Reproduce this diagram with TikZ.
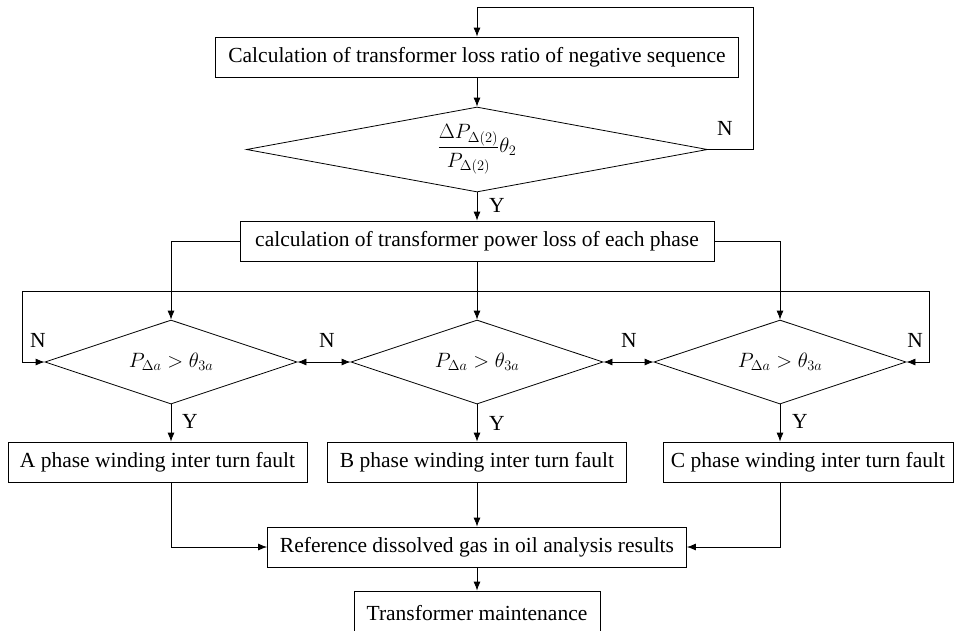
\documentclass[tikz,border=0pt]{standalone}
\usepackage{fontspec}
\setmainfont{Liberation Serif}
\usetikzlibrary{shapes.geometric,arrows.meta}

\begin{document}
\begin{tikzpicture}[x=1pt,y=-1pt,
		font=\fontsize{21.5}{26}\selectfont,
		line width=0.8pt,>={Latex[length=9pt,width=7pt]},
		procbox/.style={draw,rectangle,inner sep=0pt,minimum height=40pt},
		testbox/.style={draw,diamond,inner sep=0pt,aspect=3,minimum width=252pt,minimum height=84pt},
		lbl/.style={inner sep=0pt}]
	\useasboundingbox (0,0) rectangle (955,630);
	
	% Negative sequence check
	\node[procbox,minimum width=523pt] (calc1) at (477,57) {Calculation of transformer loss ratio of negative sequence};
	\node[testbox,aspect=5.4,minimum width=461pt,minimum height=85pt] (d1) at (477,149.5) {$\displaystyle\frac{\Delta P_{\Delta(2)}}{P_{\Delta(2)}}\theta_2$};
	\draw[->] (calc1) -- (d1);
	\coordinate (backtop) at (753,7);
	\draw[->] (d1.east) -| (backtop) -| (calc1.north);
	\node[lbl] at (725,128) {N};
	
	% Power loss of each phase
	\node[procbox,minimum width=474pt] (calc2) at (477,241) {calculation of transformer power loss of each phase};
	\draw[->] (d1) -- (calc2);
	\node[lbl] at (497,205) {Y};
	
	% Phase checks
	\node[testbox] (dA) at (171,362) {$P_{\Delta a} > \theta_{3a}$};
	\node[testbox] (dB) at (477,362) {$P_{\Delta a} > \theta_{3a}$};
	\node[testbox] (dC) at (780,362) {$P_{\Delta a} > \theta_{3a}$};
	\draw[->] (calc2.west) -| (dA.north);
	\draw[->] (calc2) -- (dB);
	\draw[->] (calc2.east) -| (dC.north);
	\coordinate (backL) at (22,291);
	\coordinate (backR) at (929,291);
	\draw (backL) -- (backR);
	\draw[->] (backL) |- (dA.west);
	\draw[->] (backR) |- (dC.east);
	\draw[<->] (dA.east) -- (dB.west);
	\draw[<->] (dB.east) -- (dC.west);
	\node[lbl] at (38,340) {N};
	\node[lbl] at (327,340) {N};
	\node[lbl] at (629,340) {N};
	\node[lbl] at (915,340) {N};
	
	% Faults
	\node[procbox,minimum width=299pt] (faultA) at (157.5,462) {A phase winding inter turn fault};
	\node[procbox,minimum width=299pt] (faultB) at (477,462) {B phase winding inter turn fault};
	\node[procbox,minimum width=290pt] (faultC) at (808,462) {C phase winding inter turn fault};
	\draw[->] (dA.south) -- (dA.south |- faultA.north);
	\draw[->] (dB) -- (faultB);
	\draw[->] (dC.south) -- (dC.south |- faultC.north);
	\node[lbl] at (190,421) {Y};
	\node[lbl] at (497,423) {Y};
	\node[lbl] at (800,421) {Y};
	
	% Gas analysis and maintenance
	\node[procbox,minimum width=419pt] (gas) at (477,547) {Reference dissolved gas in oil analysis results};
	\draw[->] (dA.south |- faultA.south) |- (gas.west);
	\draw[->] (faultB) -- (gas);
	\draw[->] (dC.south |- faultC.south) |- (gas.east);
	\node[procbox,minimum width=246pt,minimum height=44pt] (maint) at (477,613) {Transformer maintenance};
	\draw[->] (gas) -- (maint);
\end{tikzpicture}
\end{document}
